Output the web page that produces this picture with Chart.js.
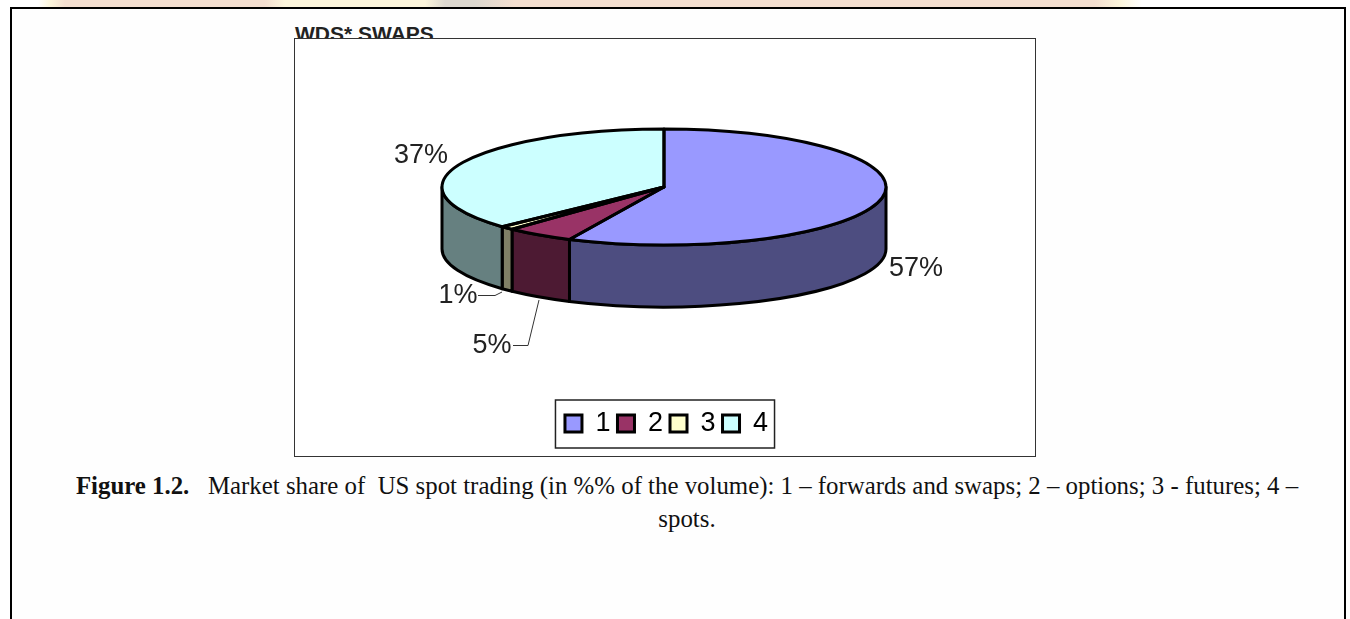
<!DOCTYPE html>
<html>
<head>
<meta charset="utf-8">
<script src="https://cdn.jsdelivr.net/npm/chart.js@4"></script>
<style>
html,body{margin:0;padding:0;background:#fff;width:1350px;height:619px;overflow:hidden}
#band{position:absolute;left:0;top:0;width:1350px;height:8px;background:linear-gradient(to right,#fff 0,#fff 38px,#fdf6dc 50px,#f4dfd0 65px,#f4dfd0 265px,#fdf6dc 285px,#fdf6dc 425px,#ddd8cf 445px,#ddd8cf 475px,#f4dfd0 515px,#f4dfd0 1095px,#fdf6dc 1120px,#fff 1142px,#fff 1350px)}
#frame{position:absolute;left:10px;top:7px;width:1332px;height:620px;border:2px solid #000;background:#fefefe}
#title{position:absolute;left:295px;top:22px;font:bold 21px "Liberation Sans",Arial,sans-serif;color:#222;white-space:nowrap}
#box{position:absolute;left:294px;top:38px;width:740px;height:417px;border:1px solid #333;background:#fff}
#box canvas{display:block}
#caption{position:absolute;left:60px;width:1254px;top:469px;text-align:center;font:24.85px/33px "Liberation Serif","Times New Roman",serif;color:#111}
</style>
</head>
<body>
<div id="band"></div>
<div id="frame"></div>
<div id="title">WDS* SWAPS</div>
<div id="box"><canvas id="c" width="740" height="417"></canvas></div>
<div id="caption"><b>Figure 1.2.</b>&nbsp;&nbsp; Market share of&nbsp; US spot trading (in %% of the volume): 1 – forwards and swaps; 2 – options; 3 - futures; 4 –<br>spots.</div>
<script>
const categories = ['1', '2', '3', '4'];
const shares = [57, 5, 1, 37];
const topColors = ['#9999ff', '#993366', '#ffffcc', '#ccffff'];
const wallColors = ['#4d4d80', '#4d1a33', '#808066', '#668080'];
const valueLabels = ['57%', '5%', '1%', '37%'];

const RX = 222, RY = 58, DEPTH = 62, CX = 369, CY = 148;

const pie3d = {
  id: 'pie3d',
  beforeDatasetsDraw(chart) {
    const ctx = chart.ctx, arcs = chart.getDatasetMeta(0).data;
    ctx.save();
    ctx.strokeStyle = '#000';
    ctx.lineWidth = 3;
    ctx.lineJoin = 'round';
    arcs.forEach((a, i) => {
      const s = Math.max(a.startAngle, 0), e = Math.min(a.endAngle, Math.PI);
      if (e <= s) return;
      ctx.beginPath();
      ctx.ellipse(CX, CY, RX, RY, 0, s, e);
      ctx.ellipse(CX, CY + DEPTH, RX, RY, 0, e, s, true);
      ctx.closePath();
      ctx.fillStyle = wallColors[i];
      ctx.fill();
      ctx.stroke();
    });
    ctx.restore();
    const a0 = arcs[0];
    ctx.save();
    ctx.translate(CX, CY);
    ctx.scale(1, RY / RX);
    ctx.translate(-a0.x, -a0.y);
  },
  afterDatasetsDraw(chart) {
    const ctx = chart.ctx, arcs = chart.getDatasetMeta(0).data;
    ctx.restore();
    ctx.save();
    ctx.strokeStyle = '#000';
    ctx.lineWidth = 3;
    ctx.lineJoin = 'round';
    arcs.forEach(a => {
      ctx.beginPath();
      ctx.moveTo(CX, CY);
      ctx.ellipse(CX, CY, RX, RY, 0, a.startAngle, a.endAngle);
      ctx.closePath();
      ctx.stroke();
    });
    ctx.restore();
  },
  afterDraw(chart) {
    const ctx = chart.ctx;
    ctx.save();
    // value labels
    ctx.font = '27px "Liberation Sans", Arial, sans-serif';
    ctx.fillStyle = '#222';
    ctx.textAlign = 'center';
    ctx.textBaseline = 'middle';
    const labelPos = [[621, 230], [197, 307], [163, 257], [126, 117]];
    valueLabels.forEach((t, i) => ctx.fillText(t, labelPos[i][0], labelPos[i][1]));
    // leader lines
    ctx.strokeStyle = '#333';
    ctx.lineWidth = 1;
    ctx.beginPath();
    ctx.moveTo(183, 256.5); ctx.lineTo(200, 256.5); ctx.lineTo(207, 253);
    ctx.moveTo(218, 306.5); ctx.lineTo(233, 306.5); ctx.lineTo(244, 261);
    ctx.stroke();
    // legend frame
    const hb = chart.legend.legendHitBoxes;
    const last = hb[hb.length - 1];
    ctx.strokeStyle = '#222';
    ctx.lineWidth = 1.5;
    ctx.strokeRect(hb[0].left - 9.5, hb[0].top - 10, last.left + last.width - hb[0].left + 16, 48);
    ctx.restore();
  }
};

new Chart(document.getElementById('c'), {
  type: 'pie',
  data: {
    labels: categories,
    datasets: [{
      data: shares,
      backgroundColor: topColors,
      borderWidth: 0,
      radius: RX,
      clip: false
    }]
  },
  options: {
    responsive: false,
    animation: false,
    events: [],
    layout: { padding: { bottom: 9, left: 3 } },
    plugins: {
      tooltip: { enabled: false },
      legend: {
        position: 'bottom',
        labels: {
          boxWidth: 17,
          boxHeight: 17,
          padding: 7,
          color: '#222',
          font: { family: '"Liberation Sans", Arial, sans-serif', size: 27 },
          generateLabels(chart) {
            return categories.map((c, i) => ({
              text: c,
              fillStyle: topColors[i],
              strokeStyle: '#000',
              lineWidth: 3,
              index: i,
              hidden: false
            }));
          }
        }
      }
    }
  },
  plugins: [pie3d]
});
</script>
</body>
</html>
